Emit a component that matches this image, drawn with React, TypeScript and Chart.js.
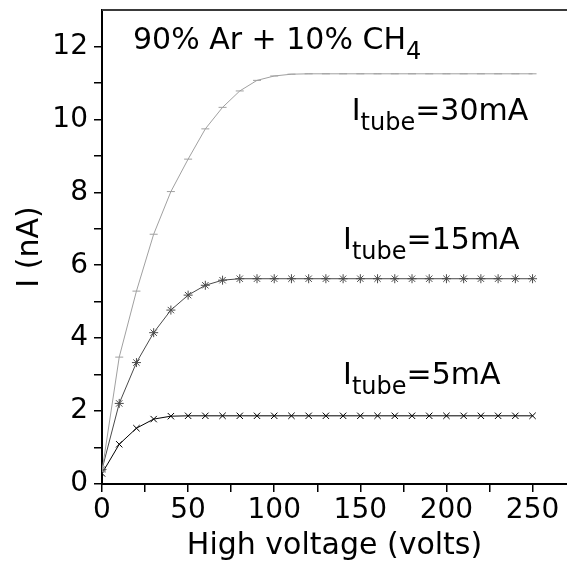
import React, { useEffect, useRef } from "react";
import { Chart, registerables } from "chart.js";

Chart.register(...registerables);

const voltages = [0, 10, 20, 30, 40, 50, 60, 70, 80, 90, 100, 110, 120, 130, 140, 150, 160, 170, 180, 190, 200, 210, 220, 230, 240, 250];
const i30mA = [0.35, 3.48, 5.29, 6.85, 8.02, 8.91, 9.74, 10.33, 10.78, 11.07, 11.19, 11.24, 11.25, 11.25, 11.25, 11.25, 11.25, 11.25, 11.25, 11.25, 11.25, 11.25, 11.25, 11.25, 11.25, 11.25];
const i15mA = [0.4, 2.21, 3.33, 4.15, 4.77, 5.18, 5.45, 5.59, 5.63, 5.63, 5.63, 5.63, 5.63, 5.63, 5.63, 5.63, 5.63, 5.63, 5.63, 5.63, 5.63, 5.63, 5.63, 5.63, 5.63, 5.63];
const i5mA = [0.29, 1.09, 1.53, 1.78, 1.86, 1.87, 1.87, 1.87, 1.87, 1.87, 1.87, 1.87, 1.87, 1.87, 1.87, 1.87, 1.87, 1.87, 1.87, 1.87, 1.87, 1.87, 1.87, 1.87, 1.87, 1.87];

const xTicks = [0, 25, 50, 75, 100, 125, 150, 175, 200, 225, 250];
const xTickLabels = ["0", "", "50", "", "100", "", "150", "", "200", "", "250"];
const yTicks = [0, 1, 2, 3, 4, 5, 6, 7, 8, 9, 10, 11, 12];
const yTickLabels = ["0", "", "2", "", "4", "", "6", "", "8", "", "10", "", "12"];

const FONT = "'DejaVu Sans', sans-serif";

// annotation texts: [text, isSubscript]
const notes = [
  { x: 18, y: 11.93, parts: [["90% Ar + 10% CH", false], ["4", true]] },
  { x: 145, y: 9.98, parts: [["I", false], ["tube", true], ["=30mA", false]] },
  { x: 140, y: 6.44, parts: [["I", false], ["tube", true], ["=15mA", false]] },
  { x: 140, y: 2.73, parts: [["I", false], ["tube", true], ["=5mA", false]] },
];

const decorPlugin = {
  id: "decor",
  afterDraw(chart: any) {
    const { ctx, chartArea, scales } = chart;
    ctx.save();
    // keep the right side open (no frame on the right)
    ctx.fillStyle = "#fff";
    ctx.fillRect(chartArea.right - 3, chartArea.top + 1.5, 3, chartArea.bottom - chartArea.top - 3);
    // top frame line
    ctx.beginPath();
    ctx.strokeStyle = "#3a3a3a";
    ctx.lineWidth = 2;
    ctx.moveTo(chartArea.left, chartArea.top);
    ctx.lineTo(chartArea.right, chartArea.top);
    ctx.stroke();
    ctx.beginPath();
    ctx.fillStyle = "#000";
    ctx.textBaseline = "alphabetic";
    ctx.textAlign = "left";
    for (const n of notes) {
      let px = scales.x.getPixelForValue(n.x);
      const py = scales.y.getPixelForValue(n.y);
      for (const [txt, sub] of n.parts as [string, boolean][]) {
        ctx.font = sub ? `24px ${FONT}` : `30px ${FONT}`;
        ctx.fillText(txt, px, sub ? py + 10 : py);
        px += ctx.measureText(txt).width;
      }
    }
    ctx.restore();
  },
};

export default function App() {
  const ref = useRef<HTMLCanvasElement>(null);
  useEffect(() => {
    if (!ref.current) return;
    const chart = new Chart(ref.current, {
      type: "line",
      data: {
        datasets: [
          {
            label: "30mA",
            data: voltages.map((v, i) => ({ x: v, y: i30mA[i] })),
            borderColor: "#a0a0a0",
            borderWidth: 1,
            pointStyle: "line",
            pointRadius: 4,
            pointBorderWidth: 1,
            tension: 0,
          },
          {
            label: "15mA",
            data: voltages.map((v, i) => ({ x: v, y: i15mA[i] })),
            borderColor: "#4a4a4a",
            borderWidth: 1,
            pointStyle: "star",
            pointRadius: 4.5,
            pointBorderWidth: 1,
            tension: 0,
          },
          {
            label: "5mA",
            data: voltages.map((v, i) => ({ x: v, y: i5mA[i] })),
            borderColor: "#000",
            borderWidth: 1,
            pointStyle: "crossRot",
            pointRadius: 4.5,
            pointBorderWidth: 1,
            tension: 0,
          },
        ],
      },
      options: {
        animation: false,
        responsive: true,
        maintainAspectRatio: false,
        layout: { autoPadding: false, padding: { top: 10, left: 0, right: 0, bottom: 0 } },
        plugins: { legend: { display: false }, tooltip: { enabled: false } },
        scales: {
          x: {
            type: "linear",
            min: 0,
            max: 270,
            afterBuildTicks: (s: any) => {
              s.ticks = xTicks.map((v) => ({ value: v }));
            },
            afterFit: (s: any) => {
              s.height = 85;
              s.paddingLeft = 0;
              s.paddingRight = 0;
            },
            ticks: {
              autoSkip: false,
              maxRotation: 0,
              color: "#000",
              padding: 2,
              font: { family: FONT, size: 28 },
              callback: (v: any) => {
                const idx = xTicks.indexOf(Number(v));
                return idx >= 0 ? xTickLabels[idx] : "";
              },
            },
            grid: { drawOnChartArea: false, drawTicks: true, tickLength: 8, color: "#000", lineWidth: 1.5 },
            border: { color: "#000", width: 2 },
            title: {
              display: true,
              text: "High voltage (volts)",
              color: "#000",
              font: { family: FONT, size: 30 },
              padding: { top: 0, bottom: 5 },
            },
          },
          y: {
            type: "linear",
            min: 0,
            max: 13,
            afterBuildTicks: (s: any) => {
              s.ticks = yTicks.map((v) => ({ value: v }));
            },
            afterFit: (s: any) => {
              s.width = 102;
              s.paddingTop = 0;
              s.paddingBottom = 0;
            },
            ticks: {
              autoSkip: false,
              color: "#000",
              padding: 6,
              font: { family: FONT, size: 28 },
              callback: (v: any) => {
                const idx = yTicks.indexOf(Number(v));
                return idx >= 0 ? yTickLabels[idx] : "";
              },
            },
            grid: { drawOnChartArea: false, drawTicks: true, tickLength: 8, color: "#000", lineWidth: 1.5 },
            border: { color: "#000", width: 2 },
            title: {
              display: true,
              text: "I (nA)",
              color: "#000",
              font: { family: FONT, size: 30 },
              padding: { top: 12, bottom: 0 },
            },
          },
        },
      },
      plugins: [decorPlugin],
    });
    return () => chart.destroy();
  }, []);
  return (
    <div style={{ position: "fixed", left: 0, top: 0, width: 567, height: 569, overflow: "hidden", background: "#fff" }}>
      <canvas ref={ref} style={{ display: "block" }} />
    </div>
  );
}
